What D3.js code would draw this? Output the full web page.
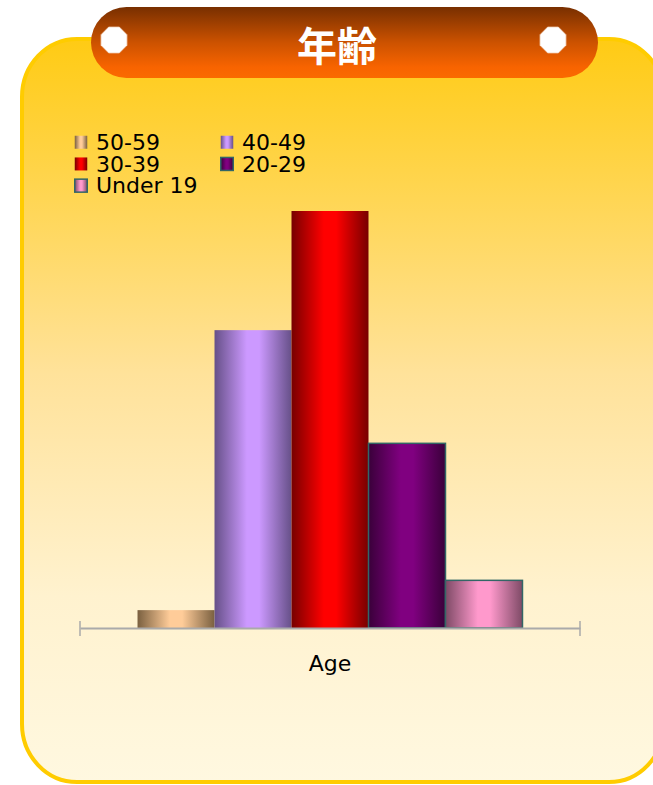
<!DOCTYPE html>
<html>
<head>
<meta charset="utf-8">
<script src="https://cdn.jsdelivr.net/npm/d3@7"></script>
<style>
body { margin: 0; background: #ffffff; }
</style>
</head>
<body>
<script>
var title = "年齢";
var axisCategories = ["Age"];
var seriesNames = ["50-59", "40-49", "30-39", "20-29", "Under 19"];
var seriesValues = [3, 50, 70, 31, 8];

var lightColors = ["#ffcc99", "#cc99ff", "#ff0000", "#800080", "#ff99cc"];
var darkColors = ["#7a6040", "#665088", "#770000", "#3a003a", "#7e4a66"];
var outlined = [false, false, false, true, true];

var w = 653;
var h = 785;

var svg = d3.select("body")
			.append("svg")
			.attr("width", w)
			.attr("height", h);

var defs = svg.append("defs");

var cardGrad = defs.append("linearGradient")
			.attr("id", "cardGrad")
			.attr("x1", 0).attr("y1", 0).attr("x2", 0).attr("y2", 1);
cardGrad.append("stop").attr("offset", 0).attr("stop-color", "#ffcb14");
cardGrad.append("stop").attr("offset", 0.45).attr("stop-color", "#ffe29a");
cardGrad.append("stop").attr("offset", 0.75).attr("stop-color", "#fff2cf");
cardGrad.append("stop").attr("offset", 1).attr("stop-color", "#fff8e0");

var pillGrad = defs.append("linearGradient")
			.attr("id", "pillGrad")
			.attr("x1", 0).attr("y1", 0).attr("x2", 0).attr("y2", 1);
pillGrad.append("stop").attr("offset", 0).attr("stop-color", "#782f00");
pillGrad.append("stop").attr("offset", 0.5).attr("stop-color", "#cc5200");
pillGrad.append("stop").attr("offset", 0.85).attr("stop-color", "#f86400");
pillGrad.append("stop").attr("offset", 1).attr("stop-color", "#fa6a00");

seriesNames.forEach(function(s, i){
	var g = defs.append("linearGradient")
			.attr("id", "bar" + i)
			.attr("x1", 0).attr("y1", 0).attr("x2", 1).attr("y2", 0);
	g.append("stop").attr("offset", 0).attr("stop-color", darkColors[i]);
	g.append("stop").attr("offset", 0.42).attr("stop-color", lightColors[i]);
	g.append("stop").attr("offset", 0.58).attr("stop-color", lightColors[i]);
	g.append("stop").attr("offset", 1).attr("stop-color", darkColors[i]);
});

// card
svg.append("rect")
			.attr("x", 22)
			.attr("y", 39)
			.attr("width", 642)
			.attr("height", 743)
			.attr("rx", 55)
			.attr("ry", 58)
			.attr("fill", "url(#cardGrad)")
			.attr("stroke", "#ffcc00")
			.attr("stroke-width", 4);

// title pill
svg.append("rect")
			.attr("x", 91)
			.attr("y", 7)
			.attr("width", 507)
			.attr("height", 71)
			.attr("rx", 35.5)
			.attr("fill", "url(#pillGrad)");

var octagon = d3.range(8).map(function(k){
	var a = Math.PI / 8 + k * Math.PI / 4;
	return [Math.cos(a) * 14, Math.sin(a) * 14];
});

svg.selectAll(".hole")
			.data([114, 553])
			.enter()
			.append("polygon")
			.attr("class", "hole")
			.attr("points", octagon.map(function(p){ return p.join(","); }).join(" "))
			.attr("transform", function(d){ return "translate(" + d + ",40)"; })
			.attr("fill", "#ffffff")
			.attr("stroke", "#f2d6c0")
			.attr("stroke-width", 0.8);

svg.append("text")
			.attr("x", 337)
			.attr("y", 61)
			.attr("text-anchor", "middle")
			.attr("font-family", "'Noto Sans CJK JP', sans-serif")
			.attr("font-weight", "bold")
			.attr("font-size", "40px")
			.attr("fill", "#ffffff")
			.text(title);

// scales
var plotBottom = 628;
var plotTop = 211;

var x0 = d3.scaleBand()
			.domain(axisCategories)
			.range([80, 580])
			.paddingInner(0.13)
			.paddingOuter(0.13);

var x1 = d3.scaleBand()
			.domain(seriesNames)
			.range([0, x0.bandwidth()])
			.padding(0);

var yScale = d3.scaleLinear()
			.domain([0, d3.max(seriesValues)])
			.range([plotBottom, plotTop]);

var data = seriesNames.map(function(s, i){
	return {name: s, value: seriesValues[i], index: i, cat: axisCategories[0]};
});

var bars = svg.append("g")
			.selectAll("rect")
			.data(data)
			.enter()
			.append("rect")
			.attr("x", function(d){ return x0(d.cat) + x1(d.name); })
			.attr("y", function(d){ return yScale(d.value); })
			.attr("width", x1.bandwidth())
			.attr("height", function(d){ return plotBottom - yScale(d.value); })
			.attr("fill", function(d){ return "url(#bar" + d.index + ")"; })
			.attr("stroke", function(d){ return outlined[d.index] ? "#336666" : "none"; })
			.attr("stroke-width", 1.5);

// axis
var xAxis = d3.axisBottom(x0)
			.tickSizeInner(0)
			.tickSizeOuter(0)
			.tickPadding(27);

var appendX = svg.append("g")
			.attr("transform", "translate(0," + plotBottom + ")")
			.call(xAxis);

appendX.select(".domain")
			.attr("stroke", "#aaaaaa")
			.attr("stroke-width", 2);

appendX.selectAll("text")
			.attr("font-family", "'DejaVu Sans', Verdana, sans-serif")
			.attr("font-size", "22px")
			.attr("fill", "#000000");

appendX.selectAll(".cap")
			.data(x0.range())
			.enter()
			.append("line")
			.attr("class", "cap")
			.attr("x1", function(d){ return d; })
			.attr("x2", function(d){ return d; })
			.attr("y1", -7)
			.attr("y2", 8)
			.attr("stroke", "#aaaaaa")
			.attr("stroke-width", 1.5);

// legend
var legend = svg.append("g")
			.selectAll("g")
			.data(data)
			.enter()
			.append("g")
			.attr("transform", function(d, i){
				return "translate(" + (74 + (i % 2) * 146) + "," + (150 + Math.floor(i / 2) * 21.7) + ")";
			});

legend.append("rect")
			.attr("x", 0.75)
			.attr("y", -14.25)
			.attr("width", 12.5)
			.attr("height", 13)
			.attr("fill", function(d){ return "url(#bar" + d.index + ")"; })
			.attr("stroke", function(d){ return outlined[d.index] ? "#336666" : "none"; })
			.attr("stroke-width", 1.5);

legend.append("text")
			.attr("x", 22)
			.attr("y", 0)
			.attr("font-family", "'DejaVu Sans', Verdana, sans-serif")
			.attr("font-size", "22px")
			.attr("fill", "#000000")
			.text(function(d){ return d.name; });
</script>
</body>
</html>
